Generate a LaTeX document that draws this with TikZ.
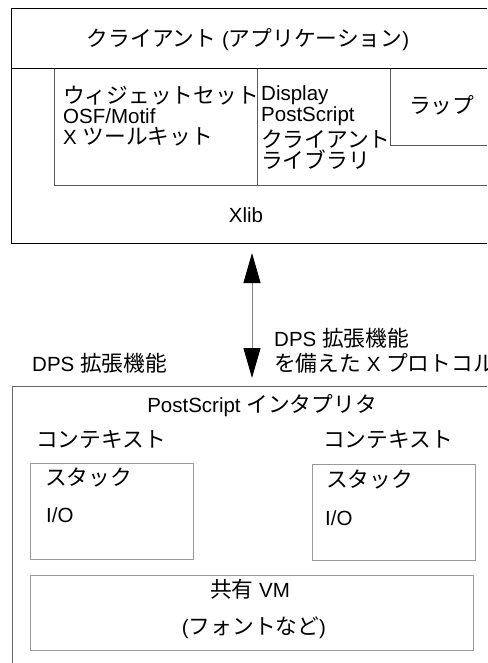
\documentclass[tikz,border=0pt]{standalone}
\usepackage{fontspec}
\setmainfont{Liberation Sans}
\newfontfamily\jp[Scale=1.06]{Noto Sans CJK JP}
\usetikzlibrary{arrows.meta}

\begin{document}
\begin{tikzpicture}[x=1pt,y=-1pt,
    every node/.style={inner sep=0pt,anchor=base west,font=\fontsize{20.5}{21}\selectfont},
    outer/.style={draw=black,line width=1pt},
    inner/.style={draw=black!65,line width=0.9pt},
    ctxbox/.style={draw=black!40,line width=0.9pt},
    proto/.style={draw=black!50,line width=1pt,
      {Triangle[length=30pt,width=17pt,color=black]}-{Triangle[length=30pt,width=17pt,color=black]}}]
    \clip (0,0) rectangle (487,663);
    % client side
    \draw[outer] (11,9) rectangle (500,243);
    \draw[outer] (11,69) -- (500,69);
    \draw[inner] (54,69) -- (54,185) -- (500,185);
    \draw[inner] (257,69) -- (257,185);
    \draw[inner] (390,69) -- (390,145) -- (500,145);
    \node (app) at (248,47) [anchor=base] {{\jp クライアント} ({\jp アプリケーション})};
    \node (widgeta) at (63,104) {\jp ウィジェットセット};
    \node (widgetb) at (63,124) {OSF/Motif};
    \node (widgetc) at (63,145) {X {\jp ツールキット}};
    \node (dpsa) at (261,101) {Display};
    \node (dpsb) at (261,122) {PostScript};
    \node (dpsc) at (261,148) {\jp クライアント};
    \node (dpsd) at (261,168) {\jp ライブラリ};
    \node (wrap) at (409,114) {\jp ラップ};
    \node (xlib) at (246,222) [anchor=base] {Xlib};
    % protocol
    \coordinate (ptop) at (252,253);
    \coordinate (pbot) at (252,378);
    \draw[proto] (ptop) -- (pbot);
    \node (extl) at (32,371) {DPS {\jp 拡張機能}};
    \node (extr) at (274,346) {DPS {\jp 拡張機能}};
    \node (xproto) at (274,371) {{\jp を備えた} X {\jp プロトコル}};
    % server side
    \draw[draw=black!60,line width=1pt] (12,386) rectangle (500,700);
    \node (interp) at (262,412) [anchor=base] {PostScript {\jp インタプリタ}};
    \node (ctxa) at (36,447) {\jp コンテキスト};
    \node (ctxb) at (323,447) {\jp コンテキスト};
    \draw[ctxbox] (30,463) rectangle (193,559);
    \draw[ctxbox] (312,464) rectangle (475,560);
    \node (stacka) at (45,485) {\jp スタック};
    \node (stackb) at (326,487) {\jp スタック};
    \node (ioa) at (46,522) {I/O};
    \node (iob) at (325,525) {I/O};
    \draw[ctxbox] (30,575) rectangle (473,650);
    \node (vm) at (250,597) [anchor=base] {{\jp 共有} VM};
    \node (fonts) at (254,634) [anchor=base] {({\jp フォントなど})};
\end{tikzpicture}
\end{document}
